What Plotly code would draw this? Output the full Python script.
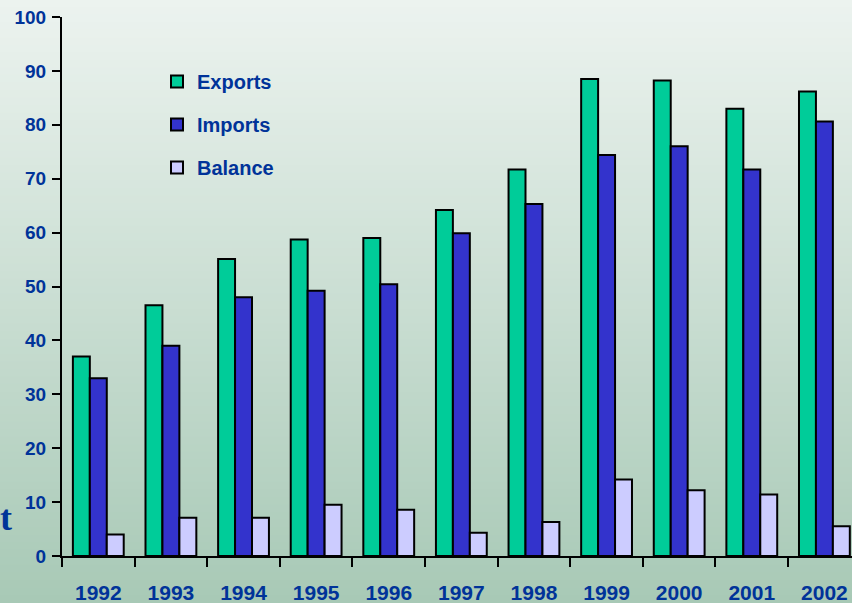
import plotly.graph_objects as go

years = ["1992", "1993", "1994", "1995", "1996", "1997", "1998", "1999", "2000", "2001", "2002"]
exports = [37.0, 46.5, 55.1, 58.7, 59.0, 64.2, 71.7, 88.5, 88.2, 83.0, 86.2]
imports = [33.0, 39.0, 48.0, 49.2, 50.4, 59.9, 65.3, 74.4, 76.0, 71.7, 80.6]
balance = [4.0, 7.1, 7.1, 9.5, 8.6, 4.3, 6.3, 14.2, 12.2, 11.4, 5.5]
y_ticks = [0, 10, 20, 30, 40, 50, 60, 70, 80, 90, 100]

W, H = 852, 603
ML, MR, MT, MB = 62, 0, 17, 47
PW, PH = W - ML - MR, H - MT - MB

TEXT = "#003399"
FONT = "Liberation Sans, Arial, sans-serif"

fig = go.Figure()
series = [("Exports", exports, "#00cc99"), ("Imports", imports, "#3333cc"), ("Balance", balance, "#ccccff")]
for name, vals, col in series:
    fig.add_trace(go.Bar(
        x=years, y=vals, name="<b>%s</b>" % name, legendgroup=name,
        marker=dict(color=col, line=dict(color="black", width=2)),
    ))

# vertical gradient background as stacked strips
top = (236, 243, 239)
bot = (168, 201, 182)
n = 80
x0p, x1p = -ML / PW, 1 + MR / PW
y0p, y1p = -MB / PH, 1 + MT / PH
shapes = []
for i in range(n):
    t = i / (n - 1)
    c = tuple(round(top[k] + (bot[k] - top[k]) * t) for k in range(3))
    ya = y1p - (y1p - y0p) * i / n
    yb = y1p - (y1p - y0p) * (i + 1) / n
    shapes.append(dict(type="rect", xref="paper", yref="paper", x0=x0p, x1=x1p,
                       y0=yb - 0.001, y1=ya + 0.001, fillcolor="rgb(%d,%d,%d)" % c,
                       line=dict(width=0), layer="below"))

fig.update_layout(
    width=W, height=H,
    margin=dict(l=ML, r=MR, t=MT, b=MB, pad=0),
    paper_bgcolor="rgb(205,224,212)",
    plot_bgcolor="rgba(0,0,0,0)",
    shapes=shapes,
    barmode="group", bargap=0.3, bargroupgap=0,
    showlegend=True,
    legend=dict(x=(157 - ML) / PW, y=(556 - 62) / PH, xanchor="left", yanchor="top",
                bgcolor="rgba(0,0,0,0)", borderwidth=0,
                font=dict(family=FONT, size=20, color=TEXT),
                tracegroupgap=14, itemwidth=30),
    xaxis=dict(type="category", range=[-0.5, 10.38], showgrid=False,
               showline=True, linecolor="black", linewidth=2,
               ticks="outside", tickson="boundaries", ticklen=9, tickwidth=2, tickcolor="black",
               tickvals=years, ticktext=["<b>%s</b>" % y for y in years],
               tickfont=dict(family=FONT, size=21, color=TEXT),
               ticklabelstandoff=17, fixedrange=True),
    yaxis=dict(range=[0, 100], showgrid=False, zeroline=False,
               showline=True, linecolor="black", linewidth=2,
               tickvals=y_ticks, ticktext=["<b>%d</b>" % v for v in y_ticks],
               ticks="outside", ticklen=8, tickwidth=2, tickcolor="black",
               tickfont=dict(family=FONT, size=19, color=TEXT),
               ticklabelstandoff=2),
    annotations=[dict(text="<b>t</b>", xref="paper", yref="paper", x=-ML / PW, y=(556 - 518) / PH,
                      xanchor="left", yanchor="middle", showarrow=False, xshift=-2,
                      font=dict(family="Liberation Serif, Times New Roman, serif", size=36,
                                color=TEXT))],
)

fig.write_html("out.html", config={"displayModeBar": False},
               post_script="document.body.style.margin='0';document.body.style.overflow='hidden';")
